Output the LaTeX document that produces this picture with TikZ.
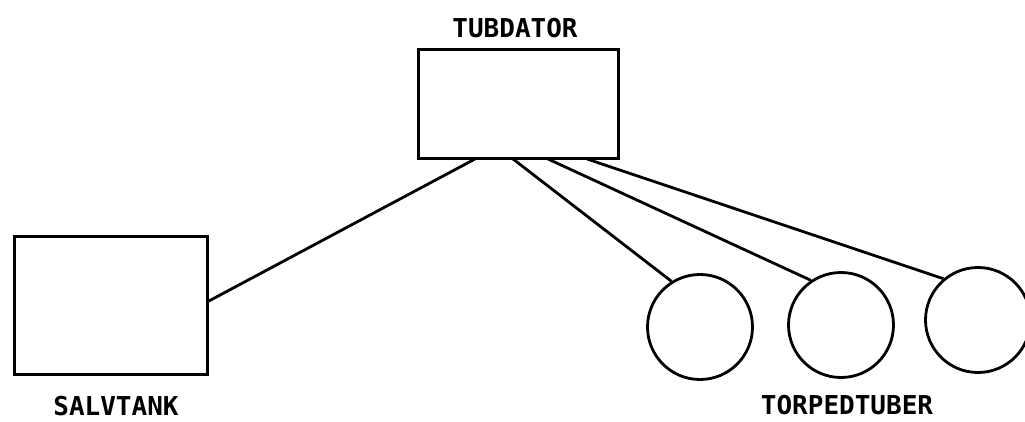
\documentclass[tikz,border=0pt]{standalone}
\usepackage{fontspec}
\newfontfamily\lbl{DejaVu Sans Mono}
\begin{document}
\begin{tikzpicture}[x=1pt,y=-1pt,
  box/.style={draw,line width=3pt,inner sep=0pt},
  tube/.style={draw,circle,line width=2.8pt,minimum size=105pt,inner sep=0pt},
  lab/.style={font=\lbl\bfseries\fontsize{26}{30}\selectfont,inner sep=0pt,anchor=center},
  conn/.style={line width=2.8pt}]
\useasboundingbox (0,0) rectangle (1025,422);
\node[box,minimum width=200pt,minimum height=109pt] (tub) at (518,104.5) {};
\node[box,minimum width=193pt,minimum height=138pt] (salv) at (110.5,305) {};
\node[tube] (c1) at (700,327) {};
\node[tube] (c2) at (841,325) {};
\node[tube] (c3) at (978,320) {};
\node[lab] (ltub) at (515,28) {TUBDATOR};
\node[lab] (lsalv) at (116,406) {SALVTANK};
\node[lab] (ltorp) at (847,405) {TORPEDTUBER};
\coordinate (t1) at (475,159);
\coordinate (t2) at (513,159);
\coordinate (t3) at (548,159);
\coordinate (t4) at (587,159);
\coordinate (s1) at (207,302);
\draw[conn] (t1) -- (s1);
\draw[conn] (t2) -- (c1.122);
\draw[conn] (t3) -- (c2.124);
\draw[conn] (t4) -- (c3.130);
\end{tikzpicture}
\end{document}
